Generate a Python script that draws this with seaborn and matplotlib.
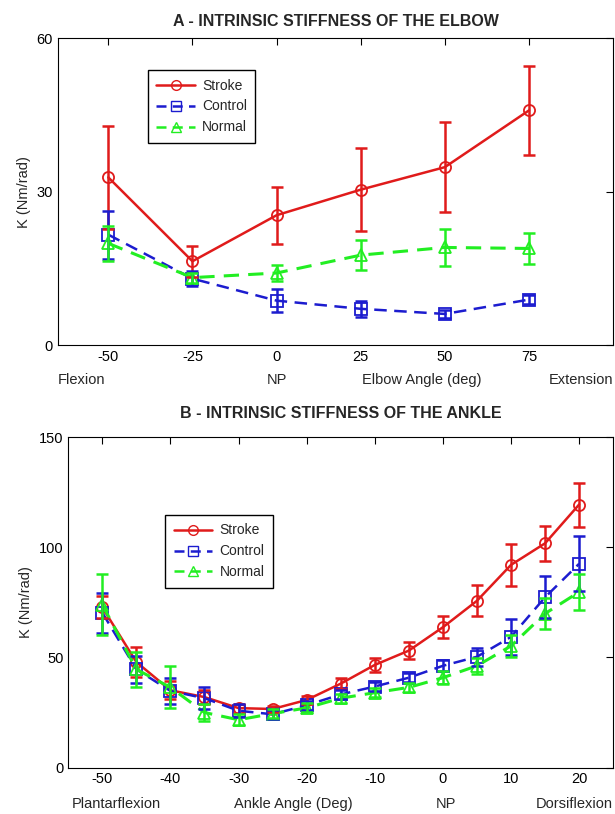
import matplotlib
matplotlib.use('Agg')
import matplotlib.pyplot as plt
import seaborn as sns
import pandas as pd

# Elbow data (panel A)
elbow_angle = [-50, -25, 0, 25, 50, 75]
elbow_stroke = [32.8, 16.4, 25.4, 30.4, 34.8, 45.9]
elbow_stroke_err = [10.1, 3.0, 5.6, 8.1, 8.8, 8.7]
elbow_control = [21.6, 13.0, 8.7, 7.1, 6.1, 8.9]
elbow_control_err = [4.7, 1.5, 2.2, 1.6, 0.8, 0.9]
elbow_normal = [19.9, 13.2, 14.1, 17.6, 19.1, 18.9]
elbow_normal_err = [3.4, 1.0, 1.6, 2.9, 3.7, 3.1]

# Ankle data (panel B)
ankle_angle = [-50, -45, -40, -35, -30, -25, -20, -15, -10, -5, 0, 5, 10, 15, 20]
ankle_stroke = [72.7, 47.9, 35.1, 32.0, 27.0, 26.6, 30.7, 38.1, 46.6, 53.1, 63.7, 75.7, 92.0, 101.8, 119.4]
ankle_stroke_err = [5.0, 7.0, 4.0, 3.0, 2.0, 1.5, 2.0, 2.5, 3.3, 3.8, 5.0, 7.0, 9.5, 8.0, 10.0]
ankle_control = [70.3, 44.6, 34.8, 31.5, 25.8, 24.2, 28.3, 33.2, 36.8, 40.8, 46.2, 50.3, 59.3, 77.3, 92.5]
ankle_control_err = [9.0, 6.0, 6.0, 5.0, 3.0, 2.0, 2.0, 2.0, 2.0, 2.0, 2.5, 4.0, 8.0, 9.5, 12.5]
ankle_normal = [74.0, 44.6, 36.4, 25.0, 21.7, 24.5, 27.1, 31.5, 34.0, 36.4, 40.8, 46.2, 55.2, 69.9, 79.7]
ankle_normal_err = [14.0, 8.0, 9.5, 4.0, 2.5, 2.0, 2.0, 2.0, 2.0, 2.0, 3.0, 3.5, 5.0, 7.0, 8.0]

groups = ['Stroke', 'Control', 'Normal']
colors = {'Stroke': '#e01b1b', 'Control': '#1c1ccf', 'Normal': '#22ee22'}
markers = {'Stroke': 'o', 'Control': 's', 'Normal': '^'}
dashes = {'Stroke': '', 'Control': (5, 3), 'Normal': (5, 3)}
widths = {'Stroke': 1.8, 'Control': 1.8, 'Normal': 2.2}

sns.set_style('white')
plt.rcParams['font.family'] = ['Liberation Sans', 'DejaVu Sans']
plt.rcParams['axes.unicode_minus'] = False

fig = plt.figure(figsize=(6.15, 8.14), dpi=100)
axA = fig.add_axes([0.094, 0.576, 0.903, 0.377])
axB = fig.add_axes([0.111, 0.057, 0.886, 0.406])


def draw(ax, x, series, errs, anchor):
    frames = []
    for g in groups:
        frames.append(pd.DataFrame({'angle': x, 'K': series[g], 'group': g}))
    df = pd.concat(frames, ignore_index=True)
    sns.lineplot(data=df, x='angle', y='K', hue='group', style='group',
                 palette=colors, markers=markers, dashes=dashes,
                 ax=ax, markersize=8, markerfacecolor='none',
                 markeredgewidth=1.3, legend=False)
    for line, g in zip(ax.get_lines(), groups):
        line.set_linewidth(widths[g])
        line.set_markeredgecolor(colors[g])
    for g in groups:
        ax.errorbar(x, series[g], yerr=errs[g], fmt='none', ecolor=colors[g],
                    elinewidth=1.8, capsize=4, capthick=1.8)
    handles = [plt.Line2D([], [], color=colors[g], marker=markers[g],
                          markerfacecolor='none', markersize=7,
                          linestyle='-' if g == 'Stroke' else '--',
                          dashes=(4, 2.5) if g != 'Stroke' else (None, None),
                          linewidth=1.8) for g in groups]
    leg = ax.legend(handles, groups, loc='upper left', bbox_to_anchor=anchor,
                    borderaxespad=0, fancybox=False, edgecolor='black',
                    fontsize=10, handlelength=2.8, handletextpad=0.5,
                    borderpad=0.6, labelspacing=0.5, framealpha=1)
    leg.get_frame().set_linewidth(1.0)
    ax.tick_params(direction='in', top=True, right=True, length=5,
                   labelsize=10.5, colors='black', width=0.8)
    for s in ax.spines.values():
        s.set_visible(True)
        s.set_color('black')
        s.set_linewidth(0.8)
    ax.set_xlabel('')
    ax.set_ylabel('K (Nm/rad)', fontsize=10.5)


draw(axA, elbow_angle,
     {'Stroke': elbow_stroke, 'Control': elbow_control, 'Normal': elbow_normal},
     {'Stroke': elbow_stroke_err, 'Control': elbow_control_err, 'Normal': elbow_normal_err},
     (0.162, 0.896))
axA.set_xlim(-65, 100)
axA.set_ylim(0, 60)
axA.set_xticks(elbow_angle)
axA.set_yticks([0, 30, 60])
axA.set_title('A - INTRINSIC STIFFNESS OF THE ELBOW', fontsize=11.5,
              fontweight='bold', pad=9)
for txt, xx, ha in [('Flexion', -65, 'left'), ('NP', 0, 'center'),
                    ('Elbow Angle (deg)', 43, 'center'), ('Extension', 100, 'right')]:
    axA.annotate(txt, (xx, 0), xycoords=('data', 'axes fraction'),
                 xytext=(0, -25), textcoords='offset points', ha=ha,
                 va='center', fontsize=10.5)

draw(axB, ankle_angle,
     {'Stroke': ankle_stroke, 'Control': ankle_control, 'Normal': ankle_normal},
     {'Stroke': ankle_stroke_err, 'Control': ankle_control_err, 'Normal': ankle_normal_err},
     (0.178, 0.764))
axB.set_xlim(-55, 25)
axB.set_ylim(0, 150)
axB.set_xticks(list(range(-50, 21, 10)))
axB.set_yticks([0, 50, 100, 150])
axB.set_title('B - INTRINSIC STIFFNESS OF THE ANKLE', fontsize=11.5,
              fontweight='bold', pad=14)
for txt, xx, ha in [('Plantarflexion', -54.5, 'left'), ('Ankle Angle (Deg)', -22, 'center'),
                    ('NP', 0.5, 'center'), ('Dorsiflexion', 25, 'right')]:
    axB.annotate(txt, (xx, 0), xycoords=('data', 'axes fraction'),
                 xytext=(0, -26), textcoords='offset points', ha=ha,
                 va='center', fontsize=10.5)

fig.savefig('out.png', dpi=100, facecolor='white')
